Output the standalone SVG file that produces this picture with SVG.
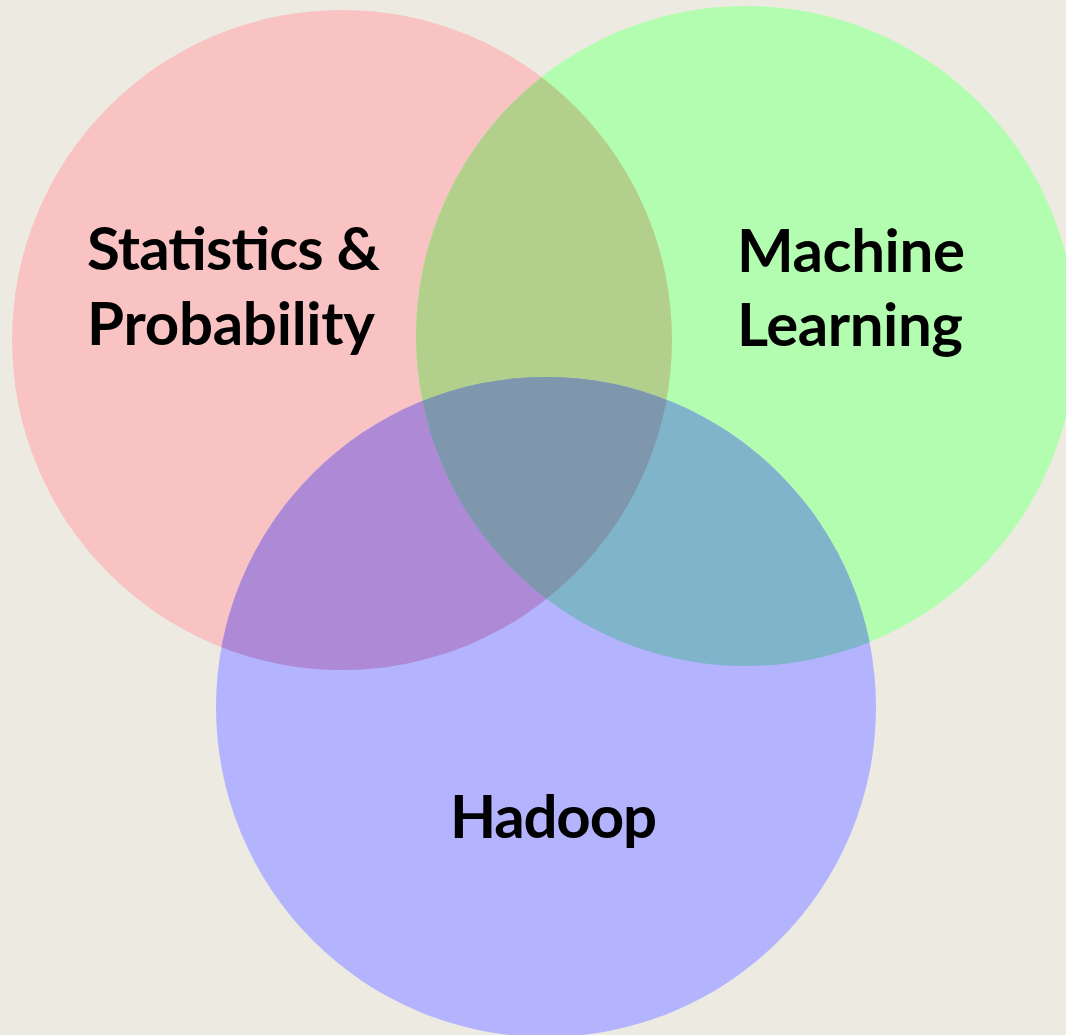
<svg xmlns="http://www.w3.org/2000/svg" width="1066" height="1035" viewBox="0 0 1066 1035">
  <style>
    .lbl { font-family: Lato, "Open Sans", "Liberation Sans", sans-serif; font-weight: 700; font-size: 60px; fill: #000; }
  </style>
  <defs>
    <clipPath id="cRed"><circle cx="342" cy="340" r="330"/></clipPath>
    <clipPath id="cGreen"><circle cx="746" cy="336" r="330"/></clipPath>
    <clipPath id="cBlue"><circle cx="546" cy="707" r="330"/></clipPath>
  </defs>
  <rect width="1066" height="1035" fill="#EDEBE1"/>
  <g id="stats">
    <circle cx="342" cy="340" r="330" fill="#F9C3C3"/>
  </g>
  <g id="ml">
    <circle cx="746" cy="336" r="330" fill="#B3FDB1"/>
  </g>
  <g id="hadoop">
    <circle cx="546" cy="707" r="330" fill="#B3B3FE"/>
  </g>
  <g id="overlaps">
    <g clip-path="url(#cRed)"><circle cx="746" cy="336" r="330" fill="#B2D08C"/></g>
    <g clip-path="url(#cRed)"><circle cx="546" cy="707" r="330" fill="#AE8AD6"/></g>
    <g clip-path="url(#cGreen)"><circle cx="546" cy="707" r="330" fill="#80B4CA"/></g>
    <g clip-path="url(#cRed)"><g clip-path="url(#cGreen)"><circle cx="546" cy="707" r="330" fill="#7F97AC"/></g></g>
  </g>
  <g id="labels">
    <text class="lbl" x="87" y="270" textLength="293">Statistics &amp;</text>
    <text class="lbl" x="87" y="345" textLength="288">Probability</text>
    <text class="lbl" x="737" y="272" textLength="228">Machine</text>
    <text class="lbl" x="737" y="346" textLength="226">Learning</text>
    <text class="lbl" x="450" y="838" textLength="207">Hadoop</text>
  </g>
</svg>
